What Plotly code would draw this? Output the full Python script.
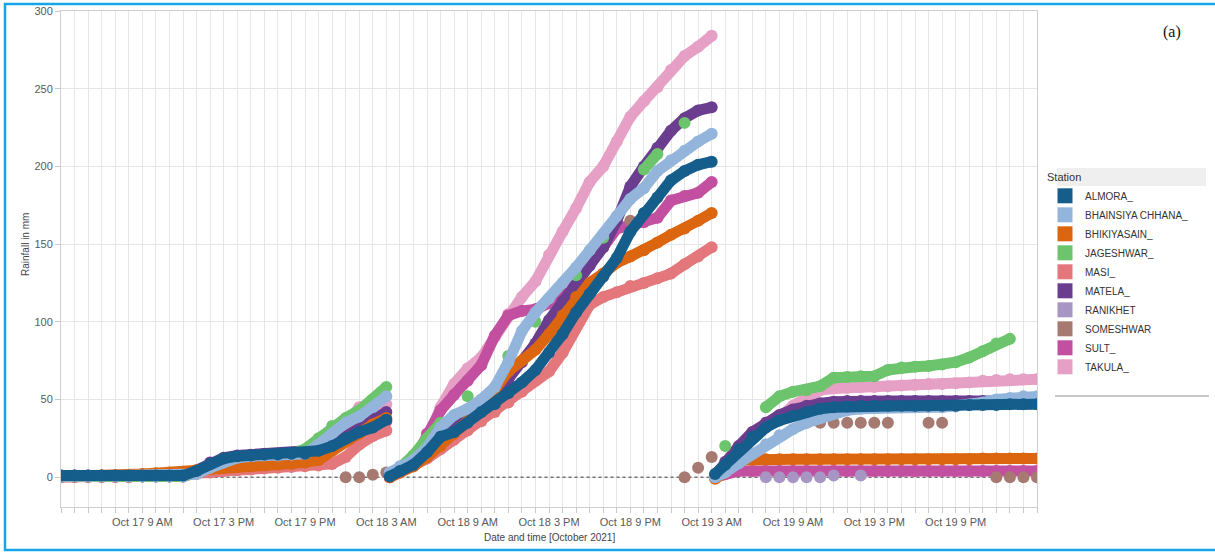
import pandas as pd
import plotly.graph_objects as go

# ---------------------------------------------------------------------------
# Time axes: three observation runs, each read hourly (first reading at :15
# after the daily reset).
DAY1_TIMES = list(pd.date_range("2021-10-17 03:00", "2021-10-18 03:00", freq="h"))
DAY2_TIMES = [pd.Timestamp("2021-10-18 03:15")] + list(
    pd.date_range("2021-10-18 04:00", "2021-10-19 03:00", freq="h"))
DAY3_TIMES = [pd.Timestamp("2021-10-19 03:15")] + list(
    pd.date_range("2021-10-19 04:00", "2021-10-20 03:00", freq="h"))

N = None

# Cumulative rainfall (mm) per station; 25 values per run: day 1 | day 2 | day 3
ALMORA = [
    1, 1, 1, 1, 1, 1, 1, 1, 1, 1, 4, 8.5, 12, 13.5, 14, 14.5, 14.5, 15, 15, 17, 20, 25, 29, 32, 37,
    0.5, 4, 8, 16, 26, 29, 35, 42, 47, 54, 61, 69, 80, 92, 106, 118, 129, 141, 158, 170, 180, 191, 197, 201, 203,
    2, 8, 18, 26, 32, 36.5, 39.5, 42, 44, 45, 45.5, 46, 46, 46, 46, 46, 46, 46, 46, 46.5, 46.5, 46.5, 47, 47, 47,
]
BHAINSIYA_CHHANA = [
    0.5, 0.5, 0.5, 0.5, 0.5, 0.5, 0.5, 0.5, 0.5, 0.5, 2, 6, 10, 12.5, 13.5, 14, 14, 14.5, 15, 21, 28, 35, 39, 45, 52,
    3, 7, 11, 19, 32, 40, 44, 50, 58, 74, 94, 106, 115, 125, 135, 146, 156, 168, 179, 186, 197, 204, 210, 216, 221,
    0, 3, 9, 15, 21, 27, 31, 35, 38, 41, 43, 44, 44.5, 45, 45, 45, 45, 45, 45.5, 46.5, 48, 50, 51, 52, 52,
]
BHIKIYASAIN = [
    0.5, 0.5, 0.5, 0.5, 0.5, 0.5, 2, 2.5, 3, 3.5, 4.5, 5.5, 6, 6.5, 7, 7.5, 8, 8.5, 9.5, 11, 17, 23, 28, 34, 38,
    0, 3, 7, 13, 20, 28, 36, 45, 56, 68, 75, 82, 92, 104, 116, 125, 131, 138, 142, 146, 151, 156, 160, 165, 170,
    -1, 3, 11, 11.5, 11.5, 11.5, 11.5, 11.5, 11.5, 11.5, 11.5, 11.5, 11.5, 11.5, 11.5, 11.5, 11.5, 11.5, 11.5, 11.5,
    12, 12, 12, 12, 12,
]
JAGESHWAR = [
    0.5, 0.5, 0.5, 0.5, 0.5, 0.5, 0.5, 0.5, 0.5, 0.5, 3, 8, 11.5, 13, 13.5, 14, 14.5, 15, 18, 25, 33, 38, 43, 50, 58,
    N, 6, 14, 25, 35, N, 52, N, N, 78, N, 100, N, N, 130, N, 154, N, N, 198, 208, N, 228, N, N,
    N, 20, N, N, 45, 52, 55, 56, 58.5, 64, 64.5, 65, 65, 69, 70.5, 71, 71.5, 72.5, 74, 77, 81, 86, 89, N, N,
]
MASI = [
    0, 0, 0, 0, 0, 0, 1, 1.5, 2, 2, 2, 3, 4, 4.5, 5, 5.5, 6, 6.5, 7, 7.5, 8.5, 13, 21, 26.5, 30,
    0, 3, 7, 12, 18, 24, 30, 36, 42, 48, 55, 62, 68, 80, 97, 111, 116, 119, 123, 125, 128, 131, 137, 142, 148,
    N, N, N, N, N, N, N, N, N, N, N, N, N, N, N, N, N, N, N, N, N, N, N, N, N,
]
MATELA = [
    1, 1, 1, 1, 1, 1, 1, 1, 1, 1, 4.5, 9.5, 12.5, 14, 14.5, 15, 15, 15.5, 15.5, 17.5, 21, 26, 33, 38, 42,
    1, 4, 8, 14, 24, 33, 37, 43, 52, 63, 74, 86, 101, 113, 126, 136, 148, 165, 187, 200, 212, 223, 231, 236, 238,
    1, 10, 20, 29, 35, 40, 43.5, 46, 47.5, 48.5, 49, 49, 49, 49, 49, 49, 49, 49, 49, 49, 49, 49, 49, 49, 49,
]
RANIKHET = [
    N, N, N, N, N, N, N, N, N, N, N, N, N, N, N, N, N, N, N, N, N, N, N, N, N,
    N, N, N, N, N, N, N, N, N, N, N, N, N, N, N, N, N, N, N, N, N, N, N, N, N,
    N, N, N, N, 0, 0, 0, 0, 0, 1, N, 1, N, N, N, N, N, N, N, N, N, N, N, N, N,
]
SOMESHWAR = [
    N, N, N, N, N, N, N, N, N, N, N, N, N, N, N, N, N, N, N, N, N, 0, 0, 1.5, 3,
    N, N, N, N, N, N, N, N, N, N, N, N, N, N, N, N, N, N, 165, N, N, N, 0, 6, 13,
    N, N, N, N, N, N, N, 35, 35, 35, 35, 35, 35, 35, N, N, 35, 35, N, N, N, 0, 0, 0, 0,
]
SULT = [
    0.5, 0.5, 0.5, 0.5, 0.5, 0.5, 0.5, 0.5, 0.5, 0.5, 3, 8, 11, 12.5, 13, 13.5, 13.5, 14, 14, 16, 19, 24, 28, 31, 36,
    0, 3, 10, 28, 43, 53, 62, 72, 91, 104, 107, 108, 112, 120, 130, 138, 148, 160, 162, 164, 167, 178, 181, 183, 190,
    0, 2, 4, 4, 4, 4, 4, 4, 4, 4, 4, 4, 4, 4, 4, 4, 4, 4, 4, 4, 4, 4, 4, 4, 4,
]
TAKULA = [
    0.5, 0.5, 0.5, 0.5, 0.5, 0.5, 0.5, 0.5, 0.5, 0.5, 3.5, 8.5, 11.5, 13, 13.5, 14, 14, 14.5, 14.5, 16.5, 21, 33, 45, 46, 47,
    1, 4, 9, 22, 45, 60, 70, 77, 90, 105, 116, 126, 143, 158, 173, 190, 200, 216, 232, 242, 251, 262, 271, 277, 284,
    1, 8, 17, 26, 33, 38, 46, 52, 56, 57, 57.5, 58, 58, 58.5, 59, 59.5, 60, 60, 60.5, 61, 62, 62.5, 63, 63, 63,
]

STATION_NAMES = ["ALMORA_", "BHAINSIYA CHHANA_", "BHIKIYASAIN_", "JAGESHWAR_", "MASI_",
                 "MATELA_", "RANIKHET", "SOMESHWAR", "SULT_", "TAKULA_"]
STATION_VALUES = [ALMORA, BHAINSIYA_CHHANA, BHIKIYASAIN, JAGESHWAR, MASI,
                  MATELA, RANIKHET, SOMESHWAR, SULT, TAKULA]
STATION_COLORS = ["#155d8b", "#94b5db", "#db660f", "#6cc46c", "#e3777b",
                  "#6b3d8f", "#a795c3", "#a67a71", "#c24fa0", "#e6a0c6"]
# stations logged only as scattered readings
DOTS_ONLY = {"RANIKHET", "SOMESHWAR"}

# x-axis labels (every 6 h) and the dotted zero reference line
TICK_TIMES = ["2021-10-17 09:00", "2021-10-17 15:00", "2021-10-17 21:00", "2021-10-18 03:00",
              "2021-10-18 09:00", "2021-10-18 15:00", "2021-10-18 21:00", "2021-10-19 03:00",
              "2021-10-19 09:00", "2021-10-19 15:00", "2021-10-19 21:00"]
TICK_LABELS = ["Oct 17 9 AM", "Oct 17 3 PM", "Oct 17 9 PM", "Oct 18 3 AM", "Oct 18 9 AM",
               "Oct 18 3 PM", "Oct 18 9 PM", "Oct 19 3 AM", "Oct 19 9 AM", "Oct 19 3 PM",
               "Oct 19 9 PM"]
ZERO_LINE = ["2021-10-17 13:00", "2021-10-19 23:40"]
X_RANGE = ["2021-10-17 03:00", "2021-10-20 03:00"]
Y_RANGE = [-19.2, 300]

# ---------------------------------------------------------------------------
FONT = "Liberation Sans, Arial, sans-serif"
W, H = 1215, 552
ML, MR, MT, MB = 61, 178, 11, 45
PW, PH = W - ML - MR, H - MT - MB
DOT = 12


def px_x(px):
    return (px - ML) / PW


def px_y(py):
    return (H - MB - py) / PH


def runs(values):
    """Concatenate the three runs, separated by gaps."""
    xs, ys = [], []
    for k, times in enumerate((DAY1_TIMES, DAY2_TIMES, DAY3_TIMES)):
        seg = values[k * 25:(k + 1) * 25]
        xs += list(times) + [None]
        ys += list(seg) + [None]
    return xs, ys


fig = go.Figure()

# draw in reverse so the first station sits on top
for name, vals, color in reversed(list(zip(STATION_NAMES, STATION_VALUES, STATION_COLORS))):
    xs, ys = runs(vals)
    dots = name in DOTS_ONLY
    fig.add_trace(go.Scatter(
        x=xs, y=ys, name=name, mode="markers" if dots else "lines+markers",
        marker=dict(size=DOT, color=color, line=dict(width=0)),
        line=dict(width=DOT - 1, color=color),
        showlegend=False, connectgaps=False,
    ))

# legend swatches
for name, color in zip(STATION_NAMES, STATION_COLORS):
    fig.add_trace(go.Scatter(
        x=[None], y=[None], mode="markers", name=name,
        marker=dict(symbol="square", size=15, color=color),
        showlegend=True,
    ))

hourly = list(pd.date_range(X_RANGE[0], X_RANGE[1], freq="h"))
label_at = {pd.Timestamp(t): lab for t, lab in zip(TICK_TIMES, TICK_LABELS)}
ticktext = [label_at.get(t, "") for t in hourly]

fig.update_xaxes(
    type="date", range=X_RANGE, tickmode="array", tickvals=hourly, ticktext=ticktext,
    showgrid=True, gridcolor="#e6e6e6", gridwidth=1,
    ticks="outside", ticklen=5, tickcolor="#c8c8c8",
    showline=True, linecolor="#cfcfcf", mirror=True, zeroline=False, automargin=False,
    tickfont=dict(family=FONT, size=11, color="#595959"),
)
fig.update_yaxes(
    range=Y_RANGE, tickmode="array", tickvals=[0, 50, 100, 150, 200, 250, 300],
    showgrid=True, gridcolor="#e6e6e6", gridwidth=1,
    ticks="outside", ticklen=5, tickcolor="#c8c8c8",
    showline=True, linecolor="#cfcfcf", mirror=True, zeroline=False, automargin=False,
    tickfont=dict(family=FONT, size=11, color="#595959"),
)

fig.add_shape(type="line", xref="x", yref="y", x0=ZERO_LINE[0], x1=ZERO_LINE[1], y0=0, y1=0,
              line=dict(color="#333333", width=1, dash="dot"), layer="between")

# legend header bar and footer rule
fig.add_shape(type="rect", xref="paper", yref="paper",
              x0=px_x(1057), x1=px_x(1206), y0=px_y(186), y1=px_y(168),
              fillcolor="#efefef", line=dict(width=0), layer="below")
fig.add_shape(type="line", xref="paper", yref="paper",
              x0=px_x(1055), x1=px_x(1209), y0=px_y(396), y1=px_y(396),
              line=dict(color="#b5b5b5", width=1.5))

# outer frame
fig.add_shape(type="rect", xref="paper", yref="paper",
              x0=px_x(5), x1=px_x(1218), y0=px_y(550), y1=px_y(4),
              line=dict(color="#17a6e5", width=2.5), fillcolor="rgba(0,0,0,0)")

fig.add_annotation(text="Rainfall in mm", xref="paper", yref="paper", x=px_x(25), y=px_y(245),
                   xanchor="center", yanchor="middle",
                   textangle=-90, showarrow=False, font=dict(family=FONT, size=10, color="#444"))
fig.add_annotation(text="Date and time [October 2021]", xref="paper", yref="paper",
                   x=px_x(549), y=px_y(537), xanchor="center", yanchor="middle", showarrow=False,
                   font=dict(family=FONT, size=10, color="#444"))
fig.add_annotation(text="(a)", xref="paper", yref="paper", x=px_x(1172), y=px_y(32),
                   xanchor="center", yanchor="middle", showarrow=False,
                   font=dict(family="Liberation Serif, Times New Roman, serif", size=16, color="#111"))

fig.update_layout(
    width=W, height=H, margin=dict(l=ML, r=MR, t=MT, b=MB, autoexpand=False),
    paper_bgcolor="white", plot_bgcolor="white",
    legend=dict(
        x=px_x(1045), xanchor="left", y=px_y(167), yanchor="top",
        title=dict(text="Station", font=dict(family=FONT, size=11, color="#333")),
        font=dict(family=FONT, size=10, color="#333"),
        bgcolor="rgba(0,0,0,0)", tracegroupgap=0, itemclick=False,
    ),
    font=dict(family=FONT),
)

fig.write_html("out.html")
